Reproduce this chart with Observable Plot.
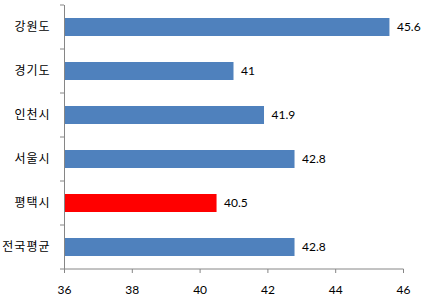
<!DOCTYPE html>
<html>
<head>
<meta charset="utf-8">
<script src="https://cdn.jsdelivr.net/npm/d3@7"></script>
<script src="https://cdn.jsdelivr.net/npm/@observablehq/plot@0.6"></script>
<style>
  html, body { margin: 0; padding: 0; background: #fff; }
</style>
</head>
<body>
<div id="chart"></div>
<script>
const categories = ["강원도", "경기도", "인천시", "서울시", "평택시", "전국평균"];
const values = [45.6, 41, 41.9, 42.8, 40.5, 42.8];
const highlight = "평택시";
const xTicks = [36, 38, 40, 42, 44, 46];
const baseline = 36;

const data = categories.map((c, i) => ({category: c, value: values[i]}));

const plot = Plot.plot({
  width: 423,
  height: 303,
  marginLeft: 64,
  marginRight: 20,
  marginTop: 5,
  marginBottom: 34,
  style: {fontFamily: "Lato, 'Noto Sans', sans-serif", fontSize: "12px", color: "#000", background: "#fff"},
  x: {domain: [36, 46], ticks: xTicks, tickFormat: d => String(d), tickSize: 4, tickPadding: 12, label: null},
  y: {domain: categories, padding: 0, label: null, tickSize: 0, tickPadding: 14},
  marks: [
    Plot.barX(data, {
      y: "category", x1: baseline, x2: "value",
      fill: d => d.category === highlight ? "#FF0000" : "#4F81BD",
      insetTop: 13, insetBottom: 13
    }),
    Plot.text(data, {
      y: "category", x: "value", text: d => String(d.value),
      textAnchor: "start", dx: 7, fontSize: 12, fill: "#000"
    }),
    Plot.ruleX([baseline], {stroke: "#868686"})
  ]
});

const svg = d3.select(plot);
svg.selectAll("[aria-label='x-axis tick'] path, [aria-label='x-axis tick'] line").attr("stroke", "#868686");
svg.selectAll("[aria-label='y-axis tick label'] text")
  .style("font-family", "'Noto Sans CJK KR', sans-serif")
  .style("font-size", "12px")
  .style("font-weight", "400")
  .style("letter-spacing", "1px");

const ys = plot.scale("y");
const xs = plot.scale("x");
const x0 = xs.apply(36), x1 = xs.apply(46);
const bounds = categories.map(c => ys.apply(c));
bounds.push(ys.apply(categories[categories.length - 1]) + ys.bandwidth);
const g = svg.append("g").attr("stroke", "#868686").attr("stroke-width", 1);
g.append("line").attr("x1", x0).attr("x2", x1 + 0.5).attr("y1", bounds[bounds.length - 1]).attr("y2", bounds[bounds.length - 1]);
bounds.forEach(y => {
  g.append("line").attr("x1", x0 - 4).attr("x2", x0).attr("y1", y).attr("y2", y);
});

document.getElementById("chart").appendChild(plot);
</script>
</body>
</html>
